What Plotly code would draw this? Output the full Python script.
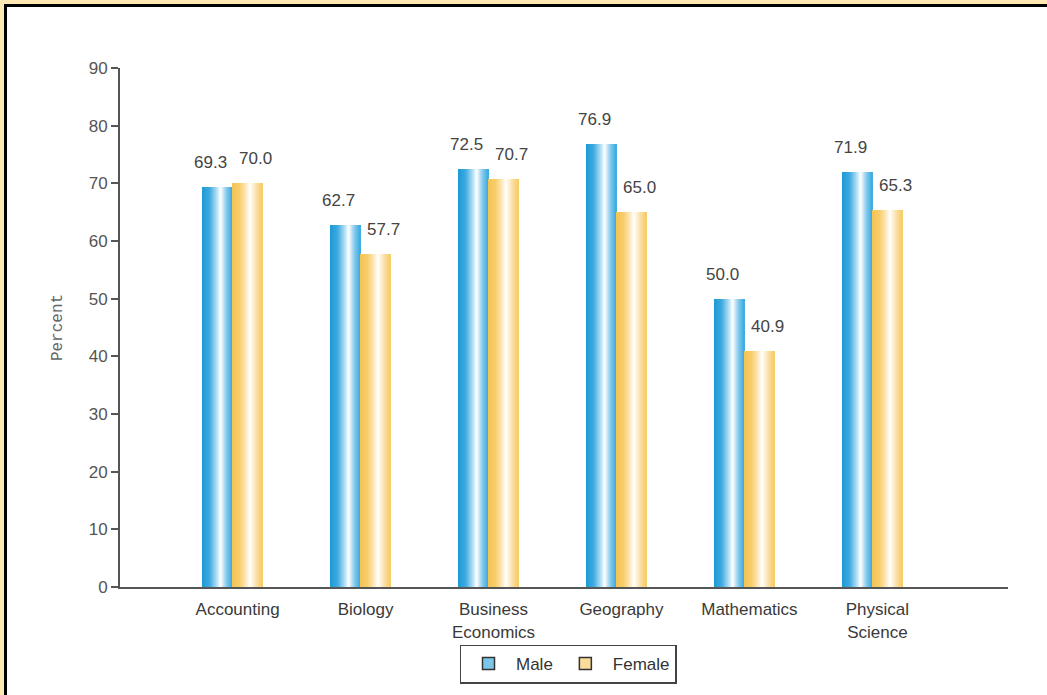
import plotly.graph_objects as go

categories = ["Accounting", "Biology", "Business<br>Economics", "Geography", "Mathematics", "Physical<br>Science"]
male = [69.3, 62.7, 72.5, 76.9, 50.0, 71.9]
female = [70.0, 57.7, 70.7, 65.0, 40.9, 65.3]
y_ticks = [0, 10, 20, 30, 40, 50, 60, 70, 80, 90]

# gradient stops across the bar width (style only)
male_stops = [(0.0, "#1c98d5"), (0.25, "#3daae0"), (0.45, "#9cd5f1"), (0.62, "#ffffff"),
              (0.8, "#8ccdef"), (1.0, "#3aabe0")]
female_stops = [(0.0, "#f4c452"), (0.25, "#f7cd6c"), (0.45, "#fce6b4"), (0.6, "#ffffff"),
                (0.8, "#fbe0a6"), (1.0, "#f7cb69")]


def hex2rgb(h):
    h = h.lstrip("#")
    return [int(h[i:i + 2], 16) for i in (0, 2, 4)]


def interp(stops, t):
    for (t0, c0), (t1, c1) in zip(stops[:-1], stops[1:]):
        if t0 <= t <= t1:
            a, b = hex2rgb(c0), hex2rgb(c1)
            u = (t - t0) / (t1 - t0) if t1 > t0 else 0
            r = [round(a[k] + (b[k] - a[k]) * u) for k in range(3)]
            return "rgb({},{},{})".format(*r)
    return stops[-1][1]


N = 30
bar_w = 0.235
strip_w = bar_w / N

fig = go.Figure()

for series, stops, start in [(male, male_stops, -bar_w), (female, female_stops, 0.0)]:
    for j in range(N):
        t = (j + 0.5) / N
        w = strip_w * (1.6 if j < N - 1 else 1.0)
        fig.add_trace(go.Bar(
            x=categories, y=series,
            width=w, offset=start + j * strip_w,
            marker=dict(color=interp(stops, t), line=dict(width=0)),
            showlegend=False, hoverinfo="skip",
        ))

# legend entries
fig.add_trace(go.Bar(x=[categories[0]], y=[None], name="Male",
                     marker=dict(color="#7cc6ec", line=dict(color="#333333", width=1.5))))
fig.add_trace(go.Bar(x=[categories[0]], y=[None], name="Female",
                     marker=dict(color="#fbdc9a", line=dict(color="#333333", width=1.5))))

label_font = dict(family="Arial", size=17, color="#444444")
annotations = []
for cat, m, f in zip(categories, male, female):
    annotations.append(dict(x=cat, y=m, xref="x", yref="y", text=f"{m:.1f}", showarrow=False,
                            xshift=-22, yshift=13, yanchor="bottom", font=label_font))
    annotations.append(dict(x=cat, y=f, xref="x", yref="y", text=f"{f:.1f}", showarrow=False,
                            xshift=23, yshift=13, yanchor="bottom", font=label_font))

plot_w = 1047 - 120 - 39
plot_h = 587 - 68


def px_x(p):
    return (p - 120) / plot_w


def px_y(p):
    return (587 - p) / plot_h


fig.update_layout(
    width=1047, height=695,
    margin=dict(l=120, r=39, t=68, b=108),
    paper_bgcolor="#ffe9b3",
    plot_bgcolor="rgba(0,0,0,0)",
    barmode="overlay",
    shapes=[dict(type="rect", xref="paper", yref="paper",
                 x0=px_x(5.5), x1=px_x(1060), y0=px_y(710), y1=px_y(5.5),
                 fillcolor="white", line=dict(color="black", width=3), layer="below")],
    annotations=annotations,
    xaxis=dict(type="category", range=[-0.88, 6.06], showline=True, linecolor="#555555", linewidth=2,
               ticks="", showgrid=False, zeroline=False, ticklabelstandoff=6, ticklabelshift=5,
               tickfont=dict(family="Arial", size=17, color="#3a3a3a")),
    yaxis=dict(range=[0, 90], tickvals=y_ticks, showline=True, linecolor="#555555", linewidth=2,
               ticks="outside", ticklen=7, tickwidth=2, tickcolor="#555555", showgrid=False, zeroline=False,
               tickfont=dict(family="Arial", size=17, color="#555555"),
               title=dict(text="Percent", standoff=22,
                          font=dict(family="Liberation Mono", size=16, color="#666666"))),
    legend=dict(orientation="h", x=px_x(568), xanchor="center", y=px_y(664), yanchor="middle",
                bgcolor="white", bordercolor="#444444", borderwidth=1.5, itemwidth=45,
                font=dict(family="Arial", size=17, color="#333333")),
    bargap=0,
)

fig.write_html("out.html", post_script="document.body.style.margin='0';",
               config={"displayModeBar": False})
